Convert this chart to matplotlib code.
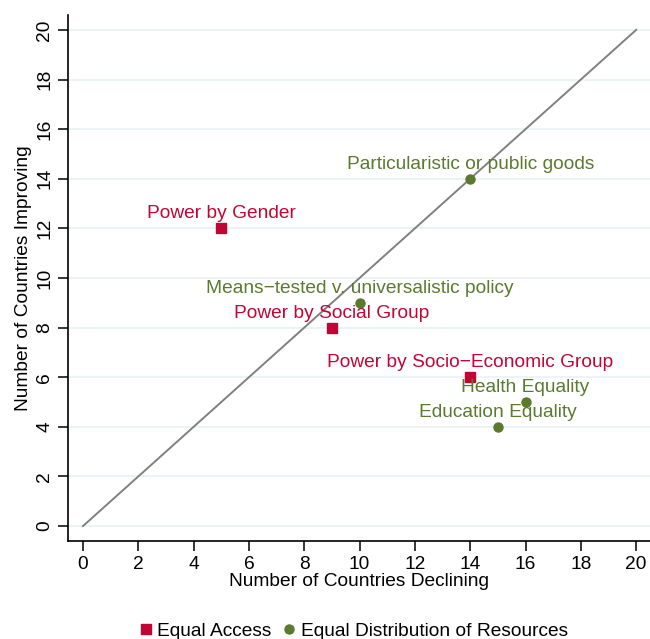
import matplotlib
matplotlib.use('Agg')
import matplotlib.pyplot as plt
from matplotlib.lines import Line2D

plt.rcParams['font.family'] = ['Liberation Sans', 'DejaVu Sans']

access_labels = ['Power by Gender', 'Power by Social Group', 'Power by Socio\u2212Economic Group']
access_declining = [5, 9, 14]
access_improving = [12, 8, 6]

distrib_labels = ['Particularistic or public goods', 'Means\u2212tested v. universalistic policy',
                  'Health Equality', 'Education Equality']
distrib_declining = [14, 10, 16, 15]
distrib_improving = [14, 9, 5, 4]

red = '#c10534'
green = '#5a7a2e'
ticks = list(range(0, 21, 2))
fs = 13.8

fig = plt.figure(figsize=(6.5, 6.39), dpi=100)
ax = fig.add_axes([68 / 650, 98 / 639, 582 / 650, 526 / 639])

ax.plot([0, 20], [0, 20], color='#808080', lw=1.4, zorder=2)
ax.plot(access_declining, access_improving, 's', color=red, ms=7.5, zorder=3, ls='none')
ax.plot(distrib_declining, distrib_improving, 'o', color=green, ms=6.5, zorder=3, ls='none')

for x, y, t in zip(access_declining, access_improving, access_labels):
    ax.annotate(t, (x, y), xytext=(0, 10.5), textcoords='offset points', ha='center', va='center',
                color=red, fontsize=fs)
for x, y, t in zip(distrib_declining, distrib_improving, distrib_labels):
    ax.annotate(t, (x, y), xytext=(0, 10.5), textcoords='offset points', ha='center', va='center',
                color=green, fontsize=fs)

ax.set_xlim(-0.54, 20.5)
ax.set_ylim(-0.6, 20.6)
ax.set_xticks(ticks)
ax.set_yticks(ticks)
ax.grid(axis='y', color='#eaf2f3', lw=1.3)
ax.set_axisbelow(True)
for s in ['top', 'right']:
    ax.spines[s].set_visible(False)
for s in ['left', 'bottom']:
    ax.spines[s].set_linewidth(1.2)
ax.tick_params(axis='both', length=7, width=1.1, labelsize=fs)
ax.tick_params(axis='y', labelrotation=90)
for lab in ax.get_yticklabels():
    lab.set_va('center')
ax.set_xlabel('Number of Countries Declining', fontsize=fs, labelpad=0)
ax.set_ylabel('Number of Countries Improving', fontsize=fs, labelpad=3)

handles = [Line2D([], [], marker='s', color=red, ls='none', ms=7.5),
           Line2D([], [], marker='o', color=green, ls='none', ms=6.5)]
fig.legend(handles, ['Equal Access', 'Equal Distribution of Resources'], ncol=2, loc='center',
           bbox_to_anchor=(352 / 650, 8 / 639), frameon=False, fontsize=fs,
           handletextpad=0.1, columnspacing=0.4, handlelength=1.0)

fig.savefig('out.png', dpi=100)
